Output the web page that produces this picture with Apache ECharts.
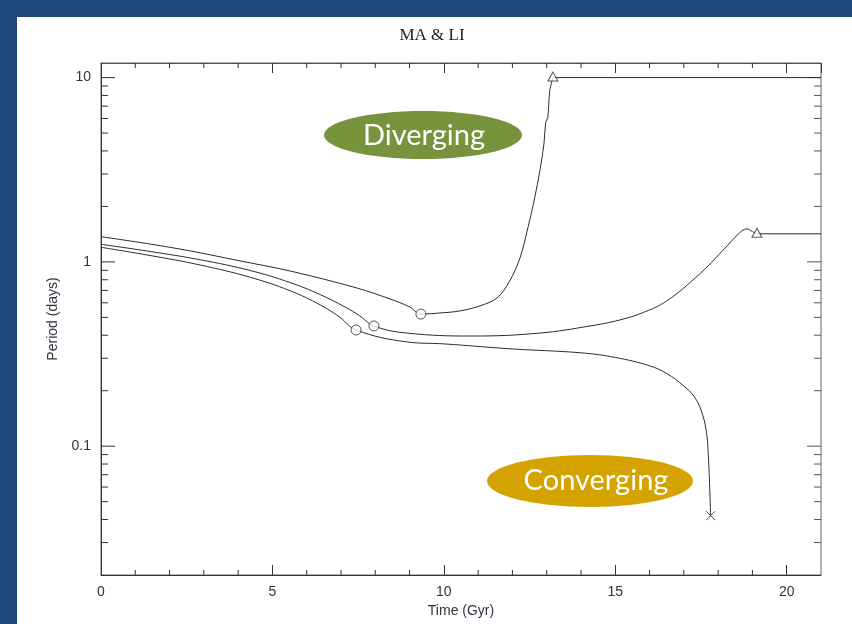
<!DOCTYPE html>
<html><head><meta charset="utf-8">
<script src="https://cdn.jsdelivr.net/npm/echarts@6/dist/echarts.min.js"></script>
<style>
html,body{margin:0;padding:0;}
#wrap{position:relative;width:852px;height:624px;background:#1F497D;overflow:hidden;}
#panel{position:absolute;left:17px;top:17px;right:0;bottom:0;background:#fff;}
#c{position:absolute;left:0;top:0;width:852px;height:624px;}
</style>
</head><body>
<div id="wrap"><div id="panel"></div><div id="c"></div></div>
<script>
// Time (Gyr) vs Period (days)
const curveA = [[0,1.37],[1.43,1.25],[2.59,1.148],[4.0,1.017],[5.51,0.893],[7.46,0.722],[8.43,0.629],[9.0,0.57],[9.33,0.521],[9.88,0.528],[10.47,0.542],[11.05,0.577],[11.55,0.637],[11.92,0.788],[12.22,1.05],[12.45,1.53],[12.65,2.23],[12.80,3.12],[12.92,4.38],[12.97,5.7],[13.03,6.06],[13.09,8.5],[13.18,10.0]];
const tailA = [[13.18,10.0],[21,10.0]];
const curveB = [[0,1.246],[1.43,1.139],[2.89,1.027],[4.35,0.898],[5.51,0.773],[6.39,0.665],[7.12,0.569],[7.55,0.509],[7.96,0.449],[8.92,0.411],[10.85,0.396],[12.80,0.411],[14.26,0.449],[15.13,0.484],[15.8,0.53],[16.50,0.614],[17.46,0.86],[18.13,1.15],[18.63,1.44],[18.83,1.51],[19.0,1.46],[19.13,1.42]];
const tailB = [[19.13,1.42],[21,1.42]];
const curveC = [[0,1.200],[1.43,1.083],[2.89,0.962],[4.35,0.825],[5.51,0.698],[6.39,0.585],[6.97,0.500],[7.44,0.427],[8.92,0.368],[10,0.359],[12,0.337],[14,0.321],[15,0.303],[16,0.273],[16.5,0.248],[17,0.212],[17.3,0.186],[17.5,0.157],[17.65,0.122],[17.72,0.084],[17.78,0.042]];
const circleMarks = [[9.33,0.521],[7.96,0.449],[7.44,0.427]];
const triangleMarks = [[13.18,10.0],[19.13,1.42]];
const crossMarks = [[17.78,0.042]];
const xMinorTicks = [1,2,3,4,6,7,8,9,11,12,13,14,16,17,18,19];
const yMajorTicks = [0.1,1,10];
const yMinorTicks = [0.03,0.04,0.05,0.06,0.07,0.08,0.09,0.2,0.3,0.4,0.5,0.6,0.7,0.8,0.9,2,3,4,5,6,7,8,9];

const INK = '#2b2b2b';
const LBL = '#2e3440';
const lineSeries = (d, smooth) => ({type:'line', data:d, showSymbol:false, smooth:smooth, silent:true,
  lineStyle:{color:INK, width:1}, z:3});

const yTickSeries = (vals, len) => ({type:'custom', silent:true, z:2, data:vals.map(v=>[0.5, v]),
  renderItem:(params, api)=>{
    const cs = params.coordSys;
    const y = api.coord([0.5, api.value(1)])[1];
    return {type:'group', children:[
      {type:'line', shape:{x1:cs.x, y1:y, x2:cs.x+len, y2:y}, style:{stroke:'#333', lineWidth:1}},
      {type:'line', shape:{x1:cs.x+cs.width-len, y1:y, x2:cs.x+cs.width, y2:y}, style:{stroke:'#555', lineWidth:1}}
    ]};
  }});

const chart = echarts.init(document.getElementById('c'), null, {renderer:'canvas'});
chart.setOption({
  animation:false,
  grid:{left:101, right:31, top:63, bottom:49, show:true, borderColor:'#666', borderWidth:1},
  xAxis:[
    {type:'value', position:'bottom', min:0, max:21, interval:5,
     axisLine:{lineStyle:{color:'#333', width:1}},
     axisTick:{inside:true, length:10, lineStyle:{color:'#333'}},
     axisLabel:{showMaxLabel:false, color:LBL, fontFamily:'Liberation Sans', fontSize:14, margin:10},
     splitLine:{show:false},
     name:'Time (Gyr)', nameLocation:'middle', nameGap:27,
     nameTextStyle:{color:LBL, fontFamily:'Liberation Sans', fontSize:14}},
    {type:'value', position:'top', min:0, max:21, interval:5,
     axisLine:{lineStyle:{color:'#555', width:1}},
     axisTick:{inside:true, length:10, lineStyle:{color:'#333'}},
     axisLabel:{show:false}, splitLine:{show:false}}
  ],
  yAxis:[
    {type:'log', logBase:10, position:'left', min:0.02, max:12,
     axisLine:{show:true, lineStyle:{color:'#333', width:1}},
     axisTick:{show:false},
     axisLabel:{showMinLabel:false, showMaxLabel:false, color:LBL, fontFamily:'Liberation Sans', fontSize:14, margin:10,
       formatter:v=>String(v)},
     splitLine:{show:false},
     name:'Period (days)', nameLocation:'middle', nameGap:37, nameRotate:90,
     nameTextStyle:{color:LBL, fontFamily:'Liberation Sans', fontSize:14}}
  ],
  graphic:[
    {type:'text', x:432, y:36, style:{text:'MA & LI', fill:'#222', font:'17px "Liberation Serif"', align:'center', verticalAlign:'middle'}},
    {type:'ellipse', shape:{cx:423, cy:135, rx:99, ry:24}, style:{fill:'#77933C'}},
    {type:'text', x:424, y:136, style:{text:'Diverging', fill:'#fff', font:'29px Lato', align:'center', verticalAlign:'middle'}},
    {type:'ellipse', shape:{cx:590, cy:481, rx:103, ry:26}, style:{fill:'#D5A300'}},
    {type:'text', x:596, y:481, style:{text:'Converging', fill:'#fff', font:'29px Lato', align:'center', verticalAlign:'middle'}}
  ],
  series:[
    lineSeries(curveA, 0.35), lineSeries(tailA, false),
    lineSeries(curveB, 0.4), lineSeries(tailB, false),
    lineSeries(curveC, 0.4),
    {type:'scatter', data:circleMarks, symbol:'circle', symbolSize:10, silent:true, z:4,
     itemStyle:{color:'#fff', borderColor:INK, borderWidth:1}},
    {type:'scatter', data:triangleMarks, symbol:'triangle', symbolSize:[10,9], symbolOffset:[0,-1], silent:true, z:4,
     itemStyle:{color:'#fff', borderColor:INK, borderWidth:1}},
    {type:'scatter', data:crossMarks, symbol:'path://M0,0L10,10M10,0L0,10', symbolSize:9, silent:true, z:4,
     itemStyle:{color:'none', borderColor:INK, borderWidth:1}},
    yTickSeries(yMajorTicks, 14),
    yTickSeries(yMinorTicks, 7),
    {type:'custom', silent:true, z:2, data:xMinorTicks.map(v=>[v, 1]),
     renderItem:(params, api)=>{
       const cs = params.coordSys;
       const x = api.coord([api.value(0), 1])[0];
       return {type:'group', children:[
         {type:'line', shape:{x1:x, y1:cs.y+cs.height, x2:x, y2:cs.y+cs.height-5}, style:{stroke:'#333', lineWidth:1}},
         {type:'line', shape:{x1:x, y1:cs.y, x2:x, y2:cs.y+5}, style:{stroke:'#333', lineWidth:1}}
       ]};
     }}
  ]
});
</script>
</body></html>
